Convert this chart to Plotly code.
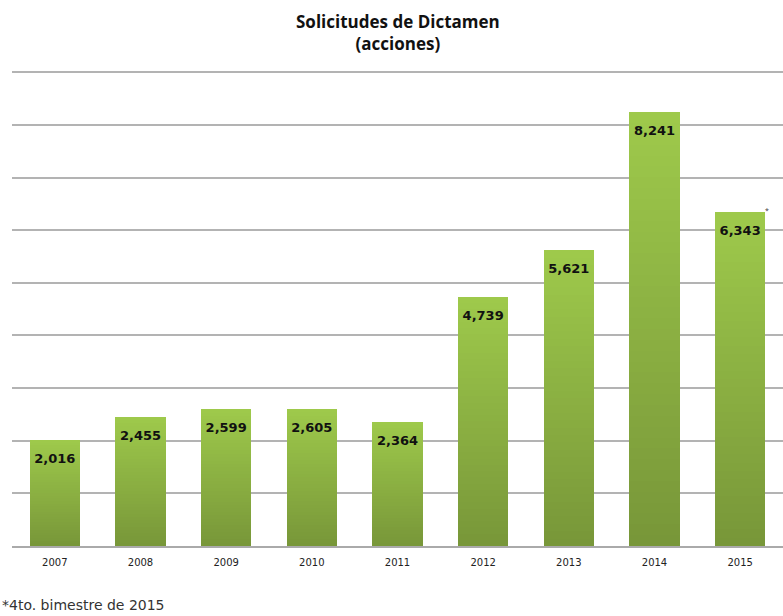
import plotly.graph_objects as go

years = ["2007", "2008", "2009", "2010", "2011", "2012", "2013", "2014", "2015"]
values = [2016, 2455, 2599, 2605, 2364, 4739, 5621, 8241, 6343]
labels = ["2,016", "2,455", "2,599", "2,605", "2,364", "4,739", "5,621", "8,241", "6,343"]
grid_vals = [1000, 2000, 3000, 4000, 5000, 6000, 7000, 8000, 9000]

pos = list(range(len(years)))

top_rgb = (158, 201, 75)
bot_rgb = (120, 151, 57)
N = 40

fig = go.Figure()
for k in range(N):
    t = k / (N - 1)  # 0 bottom -> 1 top
    c = tuple(round(bot_rgb[i] + (top_rgb[i] - bot_rgb[i]) * t) for i in range(3))
    fig.add_trace(go.Bar(
        x=pos, y=[v / N for v in values],
        marker=dict(color="rgb(%d,%d,%d)" % c, line=dict(width=0)),
        width=0.585, showlegend=False, hoverinfo="skip",
    ))

fig.add_trace(go.Scatter(
    x=pos, y=values, mode="markers+text", text=labels,
    textposition="bottom center",
    marker=dict(size=20, color="rgba(0,0,0,0)"),
    textfont=dict(family="DejaVu Sans", size=13, color="#111111"),
    texttemplate="<b>%{text}</b>",
    showlegend=False, hoverinfo="skip",
))

fig.add_annotation(x=pos[-1], y=values[-1], xref="x", yref="y", text="*",
                   showarrow=False, xshift=27, yshift=2,
                   font=dict(size=7, color="#333333"))

fig.add_annotation(x=0, y=-0.124, xref="paper", yref="paper", xanchor="left",
                   yanchor="middle", xshift=-12,
                   text="*4to. bimestre de 2015", showarrow=False,
                   font=dict(family="DejaVu Sans", size=14, color="#333333"))

fig.add_annotation(x=0.5, y=1, xref="paper", yref="paper", xanchor="center",
                   yanchor="middle", yshift=35, showarrow=False,
                   text="<b>Solicitudes de Dictamen<br>(acciones)</b>",
                   font=dict(family="Open Sans", size=17, color="#111111"))

fig.update_layout(
    width=783, height=616,
    margin=dict(l=12, r=0, t=67, b=70),
    paper_bgcolor="white", plot_bgcolor="white",
    barmode="stack",
    xaxis=dict(range=[-0.5, len(years) - 0.5], tickvals=pos, ticktext=years,
               showline=True, linecolor="#aaaaaa", linewidth=1.5,
               tickfont=dict(family="DejaVu Sans", size=10, color="#222222"),
               ticks="outside", ticklen=6, tickcolor="rgba(0,0,0,0)",
               showgrid=False, zeroline=False),
    yaxis=dict(range=[0, 9100], tickvals=grid_vals,
               showgrid=True,
               gridcolor="#b3b3b3", gridwidth=1.5, showticklabels=False,
               zeroline=False),
)

fig.write_html("out.html")
